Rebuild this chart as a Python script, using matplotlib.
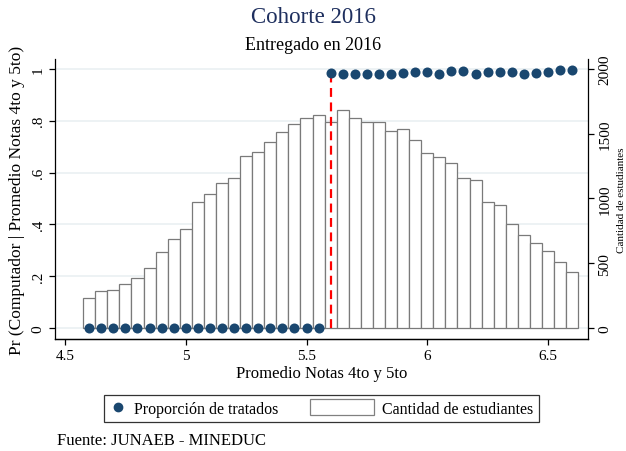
import numpy as np
import matplotlib
matplotlib.use("Agg")
import matplotlib.pyplot as plt
from matplotlib.lines import Line2D
from matplotlib.patches import Patch, Rectangle
from matplotlib.legend_handler import HandlerPatch

plt.rcParams['font.family'] = ['Liberation Serif', 'DejaVu Serif']

# promedio de notas (centro de cada bin) y datos
notas = np.round(np.arange(4.60, 6.601, 0.05), 2)
estudiantes = [229, 286, 290, 337, 383, 463, 587, 684, 764, 970,
               1037, 1120, 1155, 1328, 1359, 1433, 1513, 1575, 1621, 1647,
               1590, 1683, 1621, 1593, 1593, 1523, 1534, 1454, 1353, 1318,
               1274, 1160, 1143, 973, 947, 805, 720, 659, 594, 510, 432]
prop_tratados = [0] * 20 + [0.983, 0.982, 0.979, 0.980, 0.981, 0.980, 0.983,
                            0.988, 0.987, 0.980, 0.994, 0.992, 0.979, 0.990,
                            0.990, 0.990, 0.982, 0.985, 0.990, 0.997, 0.995]
corte = 5.6
xticks = [4.5, 5, 5.5, 6, 6.5]
xticklabels = ["4.5", "5", "5.5", "6", "6.5"]
yticks = [0, 0.2, 0.4, 0.6, 0.8, 1]
yticklabels = ["0", ".2", ".4", ".6", ".8", "1"]
y2ticks = [0, 500, 1000, 1500, 2000]

navy = "#1a476f"

fig = plt.figure(figsize=(6.26, 4.52), dpi=100)
ax = fig.add_axes([0.0879, 0.2478, 0.8514, 0.6195])
ax2 = ax.twinx()
ax.set_zorder(2)
ax.patch.set_visible(False)

# barras (eje derecho)
for v in yticks:
    ax2.axhline(v * 2000, color="#e8eff1", lw=1.1, zorder=0)
ax2.bar(notas, estudiantes, width=0.05, color="white", edgecolor="#7a7a7a",
        linewidth=0.9, zorder=1)
ax2.set_ylim(-85, 2077)
ax2.set_yticks(y2ticks)
ax2.set_yticklabels([str(v) for v in y2ticks], rotation=90, va="center")
ax2.set_ylabel("Cantidad de estudiantes", fontsize=8, labelpad=4)

# puntos y linea de corte (eje izquierdo)
ax.vlines(corte, 0, prop_tratados[20], colors="red", linestyles=(0, (4, 2.5)),
          lw=1.6, zorder=3)
ax.scatter(notas, prop_tratados, s=52, color=navy, zorder=4, linewidths=0)
ax.set_ylim(-0.0425, 1.0386)
ax.set_xlim(4.4586, 6.6657)
ax.set_yticks(yticks)
ax.set_yticklabels(yticklabels, rotation=90, va="center")
ax.set_xticks(xticks)
ax.set_xticklabels(xticklabels)
ax.set_xlabel("Promedio Notas 4to y 5to", fontsize=12, labelpad=2)
ax.set_ylabel("Pr (Computador | Promedio Notas 4to y 5to)", fontsize=12.5,
              labelpad=5)

for a in (ax, ax2):
    a.spines["top"].set_visible(False)
    a.tick_params(labelsize=11, length=4, width=0.9, direction="out")
    for s in a.spines.values():
        s.set_linewidth(0.9)
ax.spines["right"].set_visible(False)
ax2.spines["left"].set_visible(False)

fig.text(0.5, 0.962, "Cohorte 2016", ha="center", va="center",
         fontsize=16.5, color="#1e2f5e")
fig.text(0.5, 0.900, "Entregado en 2016", ha="center", va="center",
         fontsize=13)
fig.text(0.091, 0.025, "Fuente: JUNAEB - MINEDUC", ha="left", va="center",
         fontsize=12)

fs = 11.5


def wide_rect(legend, orig_handle, xdescent, ydescent, width, height, fontsize):
    ext = 3.0 * fontsize
    return Rectangle((-xdescent - ext, -ydescent - 2), width + ext, height + 4)


handles = [Line2D([], [], marker="o", ls="none", color=navy, markersize=6),
           Patch(facecolor="white", edgecolor="#808080", linewidth=0.9)]
leg = fig.legend(handles, ["Proporción de tratados", "Cantidad de estudiantes"],
                 loc="center", bbox_to_anchor=(0.5136, 0.094), ncol=2,
                 fontsize=fs, frameon=True, fancybox=False, handlelength=1.0,
                 handletextpad=0.5, columnspacing=5.0, borderpad=0.35,
                 handler_map={Patch: HandlerPatch(patch_func=wide_rect)})
leg.get_frame().set_edgecolor("black")
leg.get_frame().set_linewidth(0.9)

fig.savefig("out.png", dpi=100)
